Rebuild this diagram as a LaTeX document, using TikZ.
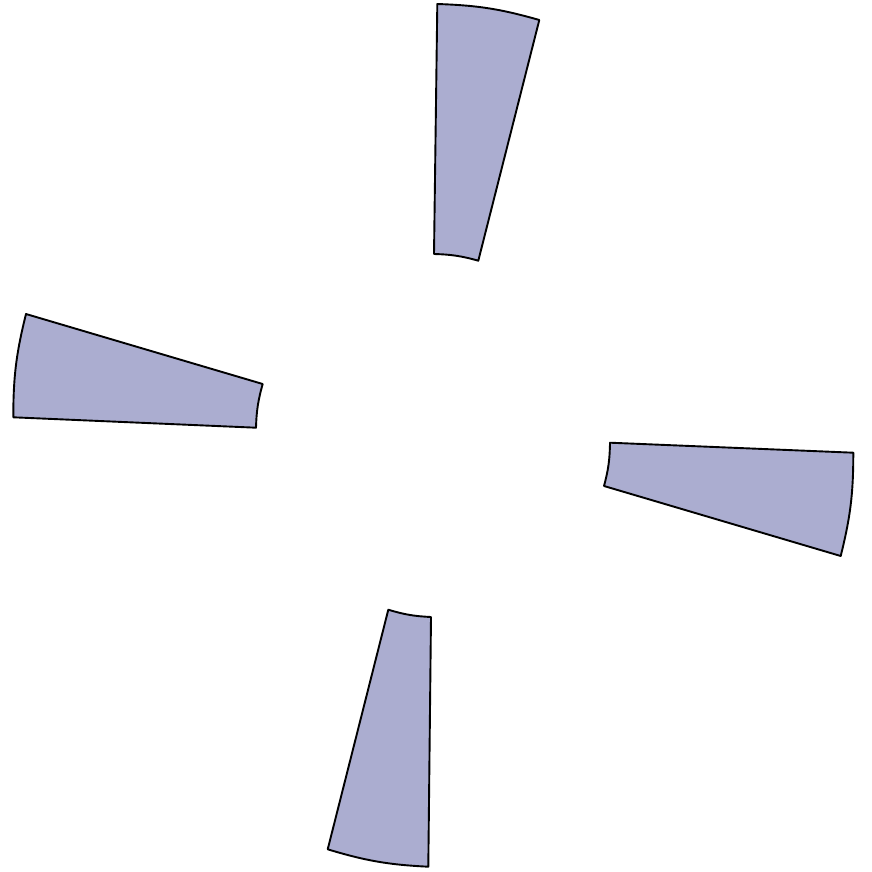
\documentclass[tikz,border=0pt]{standalone}
\usepackage{tikz}
\definecolor{bladefill}{HTML}{ABADD0}
\tikzset{blade/.style={draw=black, fill=bladefill, line width=1.9pt, line join=round}}
\begin{document}
\begin{tikzpicture}[x=1pt,y=-1pt]
\useasboundingbox (0,0) rectangle (871,872);
% top blade
\draw[blade] (437.3,4) to[bend left=7] (539.3,20) -- (478.3,260.7) to[bend right=7] (434,254) -- cycle;
% left blade
\draw[blade] (13.3,417.3) to[bend left=7] (26,314) -- (262.7,384) to[bend right=7] (256,427.7) -- cycle;
% right blade
\draw[blade] (853.3,452.7) to[bend left=7] (840.7,556) -- (604,486) to[bend right=7] (610,442.7) -- cycle;
% bottom blade
\draw[blade] (428.3,866.7) to[bend left=7] (327.7,849.3) -- (388.3,609.7) to[bend right=7] (431,617) -- cycle;
\end{tikzpicture}
\end{document}
